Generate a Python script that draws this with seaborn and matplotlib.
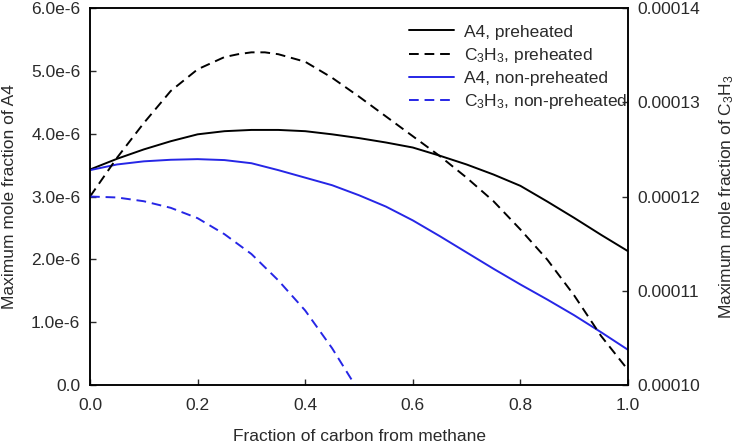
import matplotlib
matplotlib.use("Agg")
import matplotlib.pyplot as plt
from matplotlib.ticker import FuncFormatter, MultipleLocator
import numpy as np
import pandas as pd
import seaborn as sns

# fraction of carbon coming from methane
frac = [0.00, 0.05, 0.10, 0.15, 0.20, 0.25, 0.30, 0.35, 0.40, 0.45, 0.50,
        0.55, 0.60, 0.65, 0.70, 0.75, 0.80, 0.85, 0.90, 0.95, 1.00]

# max A4 mole fraction (x 1e-6)
a4_pre = [3.43, 3.60, 3.75, 3.88, 3.99, 4.04, 4.06, 4.06, 4.04, 3.99, 3.93,
          3.86, 3.78, 3.65, 3.51, 3.35, 3.17, 2.92, 2.66, 2.39, 2.13]
a4_nonpre = [3.42, 3.51, 3.56, 3.585, 3.595, 3.58, 3.53, 3.42, 3.30, 3.18, 3.02,
             2.84, 2.62, 2.37, 2.11, 1.85, 1.60, 1.36, 1.11, 0.84, 0.56]

# max C3H3 mole fraction (x 1e-4)
frac_c3h3_pre = [0.00, 0.05, 0.10, 0.15, 0.20, 0.25, 0.275, 0.30, 0.325, 0.35, 0.40, 0.45, 0.50,
                 0.55, 0.60, 0.65, 0.70, 0.75, 0.80, 0.85, 0.90, 0.95, 1.00]
c3h3_pre = [1.200, 1.241, 1.278, 1.312, 1.335, 1.348, 1.351, 1.353, 1.353, 1.351, 1.343, 1.326, 1.306,
            1.285, 1.264, 1.243, 1.220, 1.195, 1.165, 1.133, 1.095, 1.052, 1.016]
frac_c3h3_nonpre = [0.00, 0.05, 0.10, 0.15, 0.20, 0.25, 0.30, 0.35, 0.40, 0.45, 0.50]
c3h3_nonpre = [1.200, 1.199, 1.195, 1.188, 1.177, 1.160, 1.139, 1.111, 1.079, 1.039, 0.993]

labels = ["A4, preheated", "C$_3$H$_3$, preheated",
          "A4, non-preheated", "C$_3$H$_3$, non-preheated"]

sns.set_theme(style="ticks", rc={"axes.linewidth": 1.1})
plt.rcParams["font.family"] = ["Liberation Sans", "DejaVu Sans"]
plt.rcParams["mathtext.fontset"] = "custom"
plt.rcParams["mathtext.rm"] = "Liberation Sans"
plt.rcParams["mathtext.it"] = "Liberation Sans"
fs = 12.5
txt = "#2a2a2a"

blue = "#2626e6"
dash = (0, (5, 3))
lw = 1.4

fig, ax = plt.subplots(figsize=(7.41, 4.47), dpi=100)
fig.subplots_adjust(left=0.1215, right=0.8475, bottom=0.1387, top=0.982)
ax2 = ax.twinx()

df_a4 = pd.DataFrame({"frac": frac,
                      "pre": np.array(a4_pre) * 1e-6,
                      "nonpre": np.array(a4_nonpre) * 1e-6})
df_c3 = pd.DataFrame({"frac": frac_c3h3_pre, "pre": np.array(c3h3_pre) * 1e-4})
df_c3n = pd.DataFrame({"frac": frac_c3h3_nonpre, "nonpre": np.array(c3h3_nonpre) * 1e-4})

sns.lineplot(data=df_a4, x="frac", y="pre", ax=ax, color="black", lw=lw, label=labels[0])
sns.lineplot(data=df_a4, x="frac", y="nonpre", ax=ax, color=blue, lw=lw, label=labels[2])
sns.lineplot(data=df_c3, x="frac", y="pre", ax=ax2, color="black", lw=lw,
             linestyle=dash, label=labels[1])
sns.lineplot(data=df_c3n, x="frac", y="nonpre", ax=ax2, color=blue, lw=lw,
             linestyle=dash, label=labels[3])

ax.set_xlim(0, 1)
ax.set_ylim(0, 6e-6)
ax2.set_ylim(1.0e-4, 1.4e-4)

ax.xaxis.set_major_locator(MultipleLocator(0.2))
ax.yaxis.set_major_locator(MultipleLocator(1e-6))
ax2.yaxis.set_major_locator(MultipleLocator(1e-5))
ax.xaxis.set_major_formatter(FuncFormatter(lambda v, p: f"{v:.1f}"))
ax.yaxis.set_major_formatter(FuncFormatter(lambda v, p: "0.0" if abs(v) < 1e-12 else f"{v*1e6:.1f}e-6"))
ax2.yaxis.set_major_formatter(FuncFormatter(lambda v, p: f"{v:.5f}"))

ax.tick_params(axis="x", direction="in", length=4.5, width=1.0, pad=9, labelsize=fs, colors=txt)
ax.tick_params(axis="y", direction="in", length=4.5, width=1.0, pad=7, labelsize=fs, colors=txt)
ax2.tick_params(axis="y", direction="in", length=4.5, width=1.0, pad=7, labelsize=fs, colors=txt)
for a in (ax, ax2):
    for s in a.spines.values():
        s.set_color("black")

ax.set_xlabel("Fraction of carbon from methane", fontsize=fs, labelpad=12, color=txt)
ax.set_ylabel("Maximum mole fraction of A4", fontsize=fs, labelpad=10, color=txt)
ax2.set_ylabel("Maximum mole fraction of C$_3$H$_3$", fontsize=fs, labelpad=12, color=txt)

# one legend for both axes
h1, l1 = ax.get_legend_handles_labels()
h2, l2 = ax2.get_legend_handles_labels()
ax.get_legend().remove()
ax2.get_legend().remove()
handles = [h1[0], h2[0], h1[1], h2[1]]
ax2.legend(handles, labels, loc="upper right", bbox_to_anchor=(1.012, 0.975), frameon=False,
           fontsize=fs, handlelength=2.6, handletextpad=0.6, labelspacing=0.35,
           borderaxespad=0.0, labelcolor=txt)

fig.savefig("out.png", dpi=100)
